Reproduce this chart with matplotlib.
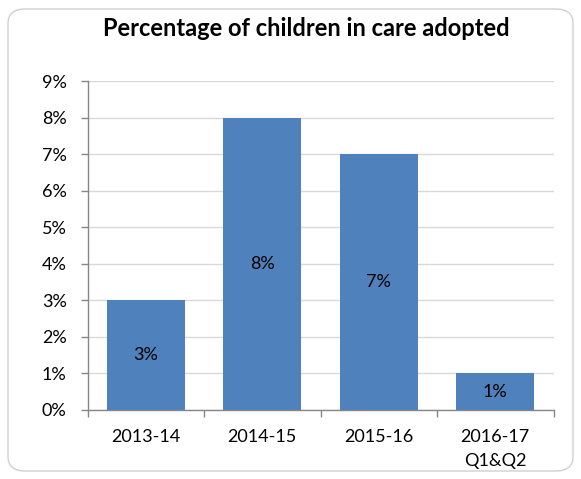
import matplotlib
matplotlib.use("Agg")
import matplotlib.pyplot as plt
from matplotlib.patches import FancyBboxPatch
import numpy as np

categories = ["2013-14", "2014-15", "2015-16", "2016-17\nQ1&Q2"]
values = [3, 8, 7, 1]
y_ticks = [0, 1, 2, 3, 4, 5, 6, 7, 8, 9]

plt.rcParams["font.family"] = ["Lato", "DejaVu Sans"]

fig = plt.figure(figsize=(5.81, 4.79), dpi=100)
fig.patch.set_facecolor("white")

# rounded chart frame
frame = FancyBboxPatch((8 / 581, 8 / 479), 565 / 581, 462 / 479,
                       boxstyle="round,pad=0,rounding_size=0.03",
                       transform=fig.transFigure, facecolor="white",
                       edgecolor="#D0D0D0", linewidth=1.0, zorder=-10)
fig.patches.append(frame)

ax = fig.add_axes([87.5 / 581, 1 - 410 / 479, 466 / 581, 329 / 479])
ax.set_facecolor("none")
ax.set_zorder(1)

x = np.arange(len(categories))
bars = ax.bar(x, values, width=0.67, color="#4F81BD", zorder=3)

for xi, v in zip(x, values):
    ax.text(xi, v / 2, f"{v}%", ha="center", va="center", fontsize=13,
            color="black", zorder=4)

ax.set_xlim(-0.5, len(categories) - 0.5)
ax.set_ylim(0, 9)
ax.set_yticks(y_ticks)
ax.set_yticklabels([f"{t}%" for t in y_ticks], fontsize=13)
ax.yaxis.grid(True, color="#D9D9D9", linewidth=1.0, zorder=0)
ax.set_axisbelow(True)

# category boundary ticks and centred labels
ax.set_xticks(np.arange(-0.5, len(categories), 1.0))
ax.set_xticklabels([])
ax.set_xticks(x, minor=True)
ax.set_xticklabels(categories, minor=True, fontsize=13, linespacing=1.55)
ax.tick_params(axis="x", which="major", length=5, color="#868686", width=1)
ax.tick_params(axis="x", which="minor", length=0, pad=14)
ax.tick_params(axis="y", length=5, color="#868686", width=1, pad=10)

for side in ["top", "right"]:
    ax.spines[side].set_visible(False)
for side in ["left", "bottom"]:
    ax.spines[side].set_color("#868686")
    ax.spines[side].set_linewidth(1.0)

fig.text(306 / 581, 1 - 28 / 479, "Percentage of children in care adopted",
         ha="center", va="center", fontsize=17, fontweight="bold")

fig.savefig("out.png", dpi=100)
